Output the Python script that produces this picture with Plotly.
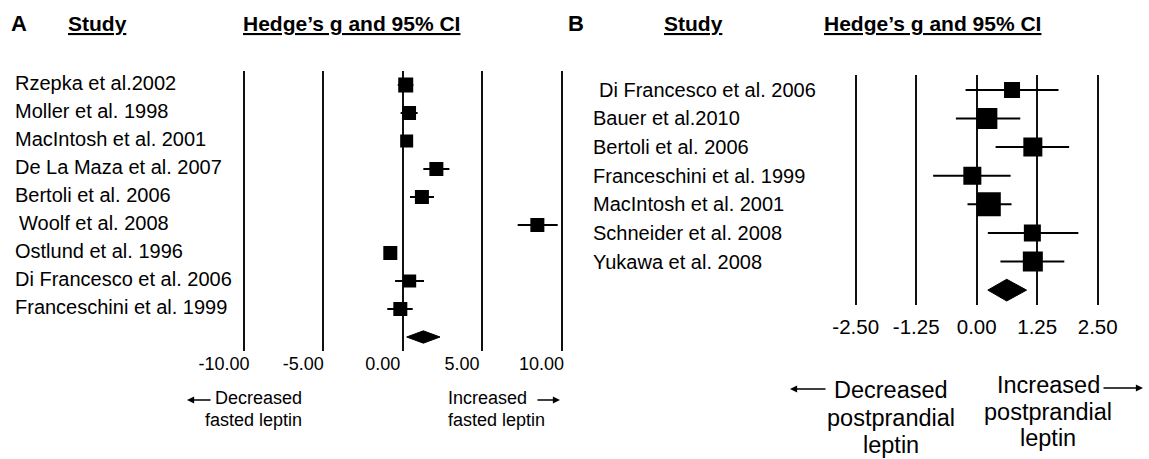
import plotly.graph_objects as go

# ---------------- data ----------------
studies_a = ["Rzepka et al.2002", "Moller et al. 1998", "MacIntosh et al. 2001",
             "De La Maza et al. 2007", "Bertoli et al. 2006", "Woolf et al. 2008",
             "Ostlund et al. 1996", "Di Francesco et al. 2006", "Franceschini et al. 1999"]
g_a = [0.19, 0.40, 0.25, 2.12, 1.21, 8.48, -0.78, 0.44, -0.15]
lo_a = [-0.31, -0.13, 0.00, 1.30, 0.46, 7.24, -1.10, -0.48, -0.97]
hi_a = [0.67, 0.94, 0.50, 2.94, 1.97, 9.76, -0.45, 1.34, 0.63]
summary_a = [0.25, 1.30, 2.35]   # lower, estimate, upper

studies_b = ["Di Francesco et al. 2006", "Bauer et al.2010", "Bertoli et al. 2006",
             "Franceschini et al. 1999", "MacIntosh et al. 2001", "Schneider et al. 2008",
             "Yukawa et al. 2008"]
g_b = [0.73, 0.21, 1.16, -0.09, 0.25, 1.15, 1.16]
lo_b = [-0.23, -0.43, 0.39, -0.90, -0.19, 0.23, 0.49]
hi_b = [1.69, 0.90, 1.91, 0.70, 0.72, 2.10, 1.81]
summary_b = [0.23, 0.62, 1.03]

ticks_a = [-10, -5, 0, 5, 10]
ticktext_a = ["-10.00", "-5.00", "0.00", "5.00", "10.00"]
ticks_b = [-2.5, -1.25, 0, 1.25, 2.5]
ticktext_b = ["-2.50", "-1.25", "0.00", "1.25", "2.50"]

# ---------------- style ----------------
sq_a = [15, 14, 13, 14, 14, 14, 14, 13, 14]
sq_b = [16, 21, 19, 18, 24, 17, 20]

W, H = 1149, 459
FONT = "Liberation Sans, Arial, sans-serif"


def px(x):
    return x / W


def py(y):
    return 1 - y / H


fig = go.Figure()


def add_panel(xa, ya, g, lo, hi, sizes, summary, diamond_h):
    rows = list(range(len(g)))
    fig.add_trace(go.Scatter(
        x=g, y=rows, mode="markers", xaxis=xa, yaxis=ya,
        marker=dict(symbol="square", size=sizes, color="black", opacity=1,
                    line=dict(width=0)),
        error_x=dict(type="data", symmetric=False,
                     array=[h - v for h, v in zip(hi, g)],
                     arrayminus=[v - l for v, l in zip(g, lo)],
                     width=0, thickness=2, color="black"),
        showlegend=False, hoverinfo="skip"))
    r = len(g)
    lo_s, est_s, hi_s = summary
    fig.add_trace(go.Scatter(
        x=[lo_s, est_s, hi_s, est_s, lo_s],
        y=[r, r - diamond_h, r, r + diamond_h, r],
        mode="lines", fill="toself", fillcolor="black",
        line=dict(color="black", width=1), xaxis=xa, yaxis=ya,
        showlegend=False, hoverinfo="skip"))


add_panel("x", "y", g_a, lo_a, hi_a, sq_a, summary_a, 0.22)
add_panel("x2", "y2", g_b, lo_b, hi_b, sq_b, summary_b, 0.38)

# axis geometry (pixel positions of zero and scale)
zA, uA = 402.7, 15.88
xrA = [-10.6, 10.6]
zB, uB = 976.7, 48.4
xrB = [-2.7, 2.7]

common_x = dict(showgrid=True, gridcolor="#111111", gridwidth=2, zeroline=False,
                showline=False, ticks="", fixedrange=True, automargin=False)
common_y = dict(showgrid=False, zeroline=False, showline=False, showticklabels=False,
                ticks="", fixedrange=True, automargin=False)

fig.update_layout(
    template="none",
    width=W, height=H, margin=dict(l=0, r=0, t=0, b=0, pad=0, autoexpand=False),
    paper_bgcolor="white", plot_bgcolor="white",
    font=dict(family=FONT, color="black"),
    showlegend=False,
    xaxis=dict(domain=[px(zA + xrA[0] * uA), px(zA + xrA[1] * uA)], range=xrA,
               tickvals=ticks_a, ticktext=ticktext_a, ticklabelshift=-20,
               tickfont=dict(size=18, family=FONT, color="black"), anchor="y", **common_x),
    yaxis=dict(domain=[py(351), py(70.7)], range=[len(g_a) + 0.5, -0.51],
               anchor="x", **common_y),
    xaxis2=dict(domain=[px(zB + xrB[0] * uB), px(zB + xrB[1] * uB)], range=xrB,
                tickvals=ticks_b, ticktext=ticktext_b, ticklabelstandoff=7,
                tickfont=dict(size=20.5, family=FONT, color="black"), anchor="y2", **common_x),
    yaxis2=dict(domain=[py(305), py(75)], range=[len(g_b) + 0.52, -0.52],
                anchor="x2", **common_y),
)

ann = []


def text(x, y, s, size, xanchor="left"):
    ann.append(dict(x=px(x), y=py(y), xref="paper", yref="paper", text=s,
                    showarrow=False, xanchor=xanchor, yanchor="middle",
                    font=dict(size=size, family=FONT, color="black")))


# headers
for x, s in [(8.5, "<b>A</b>"), (566, "<b>B</b>")]:
    text(x, 23, s, 22)
for x, s in [(65.5, "<b><u>Study</u></b>"), (241, "<b><u>Hedge’s g and 95% CI</u></b>"),
             (662, "<b><u>Study</u></b>"), (821.5, "<b><u>Hedge’s g and 95% CI</u></b>")]:
    text(x, 23, s, 21)

# study labels (a couple are indented slightly in the original)
indent_a = {5: 4}
indent_b = {0: 6}
for i, s in enumerate(studies_a):
    ann.append(dict(x=px(12.5), y=i, xref="paper", yref="y", text=s, showarrow=False,
                    xanchor="left", yanchor="middle", yshift=2, xshift=indent_a.get(i, 0),
                    font=dict(size=20, family=FONT, color="black")))
for i, s in enumerate(studies_b):
    ann.append(dict(x=px(591), y=i, xref="paper", yref="y2", text=s, showarrow=False,
                    xanchor="left", yanchor="middle", yshift=0, xshift=indent_b.get(i, 0),
                    font=dict(size=20, family=FONT, color="black")))

# bottom direction labels, panel A
text(304, 398, "Decreased", 18, xanchor="right")
text(304, 420, "fasted leptin", 18, xanchor="right")
text(446, 398, "Increased", 18, xanchor="left")
text(446, 420, "fasted leptin", 18, xanchor="left")

# panel B
text(891, 390, "Decreased", 23.5, xanchor="center")
text(891, 418, "postprandial", 23.5, xanchor="center")
text(891, 445, "leptin", 23.5, xanchor="center")
text(1048, 385, "Increased", 23.5, xanchor="center")
text(1048, 412, "postprandial", 23.5, xanchor="center")
text(1048, 438, "leptin", 23.5, xanchor="center")


def arrow(head_x, tail_x, y):
    ann.append(dict(x=px(head_x), y=py(y), xref="paper", yref="paper",
                    ax=tail_x - head_x, ay=0, axref="pixel", ayref="pixel",
                    text="", showarrow=True, arrowhead=2, arrowsize=1.1,
                    arrowwidth=1.3, arrowcolor="black"))


arrow(187, 212, 400)
arrow(560, 536, 400)
arrow(790, 827, 389)
arrow(1143, 1102, 388)

fig.update_layout(annotations=ann)
fig.write_html(
    "out.html",
    config={"displayModeBar": False, "staticPlot": True},
    post_script="document.body.style.margin='0';document.body.style.overflow='hidden';",
)
